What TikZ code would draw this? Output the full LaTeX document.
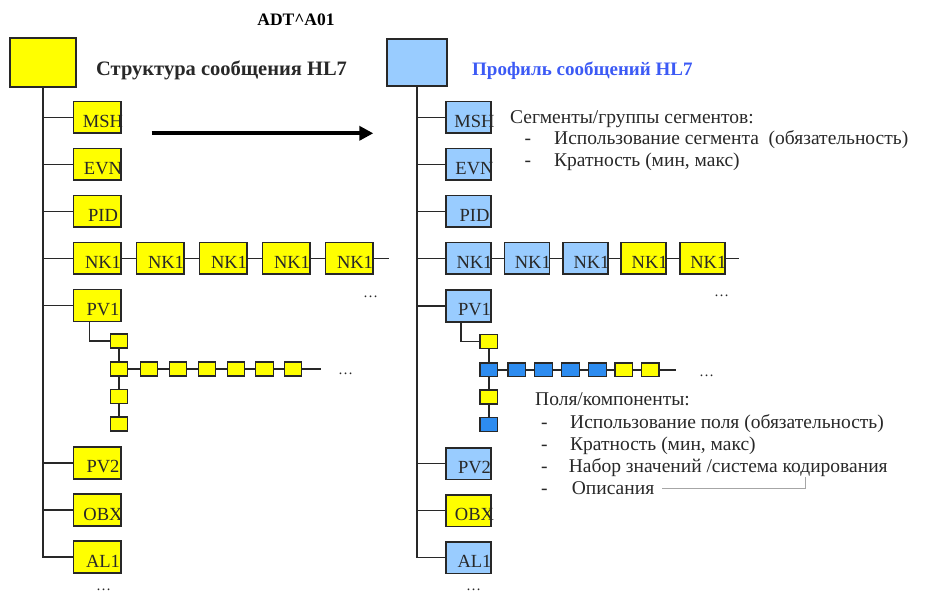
\documentclass[tikz,border=0pt]{standalone}
\usepackage{fontspec}
\setmainfont{Liberation Serif}
\usetikzlibrary{arrows.meta}

\definecolor{segyellow}{RGB}{255,255,0}
\definecolor{seglight}{RGB}{153,204,255}
\definecolor{flddark}{RGB}{45,140,240}
\definecolor{profblue}{RGB}{60,90,245}
\definecolor{ink}{RGB}{40,40,40}

% segment box with its label set a little right of and below the centre
\newcommand{\segnode}[6]{%
  \node[#1, fill=#5] (#2) at (#3,#4) {};
  \node[seglabel] (#2-t) at ([xshift=6pt,yshift=-4pt]#2.center) {#6};
}

\begin{document}
\begin{tikzpicture}[x=1pt,y=-1pt,
  wire/.style={draw=ink, line width=1.6pt},
  lseg/.style={draw=ink, line width=1.6pt, minimum width=47.4pt, minimum height=31.6pt, inner sep=0pt, outer sep=0pt},
  rseg/.style={draw=ink, line width=1.6pt, minimum width=45pt, minimum height=31.6pt, inner sep=0pt, outer sep=0pt},
  fld/.style={draw=ink, line width=1.3pt, minimum width=17.6pt, minimum height=13.8pt, inner sep=0pt, outer sep=0pt},
  seglabel/.style={font=\fontsize{18.5}{21}\selectfont, text=ink, inner sep=0pt},
  headline/.style={inner sep=0pt, anchor=base west},
  note/.style={font=\fontsize{19.5}{22}\selectfont, text=ink, inner sep=0pt, anchor=base west},
  dots/.style={font=\fontsize{15}{17}\selectfont, text=ink, inner sep=0pt},
  bracket/.style={draw=gray!70, line width=0.8pt}
]
\useasboundingbox (0,0) rectangle (943,596);

% ---------------- titles ----------------
\node[font=\fontsize{17.5}{20}\selectfont\bfseries, inner sep=0pt, anchor=base] (msgtype) at (296,26) {ADT\textasciicircum A01};
\node[headline, font=\fontsize{20.5}{23}\selectfont\bfseries, text=ink] (ltitle) at (96,76) {Структура сообщения HL7};
\node[headline, font=\fontsize{19}{22}\selectfont\bfseries, text=profblue] (rtitle) at (472,76) {Профиль сообщений HL7};

% ---------------- left tree: message structure ----------------
\node[draw=ink, line width=1.8pt, fill=segyellow, minimum width=66pt, minimum height=49pt, inner sep=0pt] (ltop) at (43,62.5) {};

\segnode{lseg}{lmsh}{97}{117.5}{segyellow}{MSH}
\segnode{lseg}{levn}{97}{164.5}{segyellow}{EVN}
\segnode{lseg}{lpid}{97}{211.5}{segyellow}{PID}
\segnode{lseg}{lnka}{97}{258.5}{segyellow}{NK1}
\segnode{lseg}{lnkb}{160}{258.5}{segyellow}{NK1}
\segnode{lseg}{lnkc}{223}{258.5}{segyellow}{NK1}
\segnode{lseg}{lnkd}{286}{258.5}{segyellow}{NK1}
\segnode{lseg}{lnke}{349}{258.5}{segyellow}{NK1}
\segnode{lseg}{lpva}{97}{305.5}{segyellow}{PV1}
\segnode{lseg}{lpvb}{97}{463}{segyellow}{PV2}
\segnode{lseg}{lobx}{97}{510}{segyellow}{OBX}
\segnode{lseg}{lal}{97}{557}{segyellow}{AL1}

\draw[wire] (ltop.south) |- (lal.west);
\foreach \n in {lmsh,levn,lpid,lnka,lpva,lpvb,lobx}
  \draw[wire] (\n.west) -- (\n.west -| ltop.south);

\coordinate (lnkend) at (389,258.5);
\draw[wire] (lnka.east) -- (lnkb.west) (lnkb.east) -- (lnkc.west)
            (lnkc.east) -- (lnkd.west) (lnkd.east) -- (lnke.west)
            (lnke.east) -- (lnkend);

% fields of PV1
\node[fld, fill=segyellow] (lfa) at (119,341) {};
\node[fld, fill=segyellow] (lfb) at (119,369) {};
\node[fld, fill=segyellow] (lfc) at (119,396.5) {};
\node[fld, fill=segyellow] (lfd) at (119,424) {};
\foreach \i/\x in {1/149,2/178,3/207,4/236,5/264.5,6/293}
  \node[fld, fill=segyellow] (lh\i) at (\x,369) {};
\coordinate (lhend) at (320.7,369);

\draw[wire] ([xshift=-7.7pt]lpva.south) |- (lfa.west);
\draw[wire] (lfa.south) -- (lfb.north) (lfb.south) -- (lfc.north) (lfc.south) -- (lfd.north);
\draw[wire] (lfb.east) -- (lh1.west) (lh1.east) -- (lh2.west) (lh2.east) -- (lh3.west)
            (lh3.east) -- (lh4.west) (lh4.east) -- (lh5.west) (lh5.east) -- (lh6.west)
            (lh6.east) -- (lhend);

\node[dots] (ldotsa) at (370.5,297) {\ldots};
\node[dots] (ldotsb) at (345.5,374) {\ldots};
\node[dots] (ldotsc) at (103.5,590) {\ldots};

% ---------------- arrow between the two trees ----------------
\coordinate (arrS) at (151.7,133.3);
\coordinate (arrE) at (373.3,133.3);
\draw[black, line width=3.6pt, -{Triangle[length=14pt,width=14pt]}] (arrS) -- (arrE);

% ---------------- right tree: message profile ----------------
\node[draw=ink, line width=1.8pt, fill=seglight, minimum width=59.4pt, minimum height=46.7pt, inner sep=0pt] (rtop) at (417,62.7) {};

\segnode{rseg}{rmsh}{468.5}{117.5}{seglight}{MSH}
\segnode{rseg}{revn}{468.5}{164.5}{seglight}{EVN}
\segnode{rseg}{rpid}{468.5}{211.5}{seglight}{PID}
\segnode{rseg}{rnka}{468.5}{258.5}{seglight}{NK1}
\segnode{rseg}{rnkb}{526.8}{258.5}{seglight}{NK1}
\segnode{rseg}{rnkc}{585.5}{258.5}{seglight}{NK1}
\segnode{rseg}{rnkd}{643.7}{258.5}{segyellow}{NK1}
\segnode{rseg}{rnke}{702.3}{258.5}{segyellow}{NK1}
\segnode{rseg}{rpva}{468.5}{306}{seglight}{PV1}
\segnode{rseg}{rpvb}{468.5}{463.5}{seglight}{PV2}
\segnode{rseg}{robx}{468.5}{510.5}{segyellow}{OBX}
\segnode{rseg}{ral}{468.5}{557.5}{seglight}{AL1}

\draw[wire] (rtop.south) |- (ral.west);
\foreach \n in {rmsh,revn,rpid,rnka,rpva,rpvb,robx}
  \draw[wire] (\n.west) -- (\n.west -| rtop.south);

\coordinate (rnkend) at (739.3,258.5);
\draw[wire] (rnka.east) -- (rnkb.west) (rnkb.east) -- (rnkc.west)
            (rnkc.east) -- (rnkd.west) (rnkd.east) -- (rnke.west)
            (rnke.east) -- (rnkend);

% fields of PV1 in the profile
\node[fld, fill=segyellow] (rfa) at (488.7,341.5) {};
\node[fld, fill=flddark]   (rfb) at (488.7,369.8) {};
\node[fld, fill=segyellow] (rfc) at (488.7,397) {};
\node[fld, fill=flddark]   (rfd) at (488.7,424.7) {};
\foreach \i/\x/\c in {1/516.7/flddark,2/543.5/flddark,3/570.4/flddark,4/597.4/flddark,5/623.8/segyellow,6/650.2/segyellow}
  \node[fld, fill=\c] (rh\i) at (\x,369.8) {};
\coordinate (rhend) at (676,369.8);

\draw[wire] ([xshift=-7.5pt]rpva.south) |- (rfa.west);
\draw[wire] (rfa.south) -- (rfb.north) (rfb.south) -- (rfc.north) (rfc.south) -- (rfd.north);
\draw[wire] (rfb.east) -- (rh1.west) (rh1.east) -- (rh2.west) (rh2.east) -- (rh3.west)
            (rh3.east) -- (rh4.west) (rh4.east) -- (rh5.west) (rh5.east) -- (rh6.west)
            (rh6.east) -- (rhend);

\node[dots] (rdotsa) at (721.5,296) {\ldots};
\node[dots] (rdotsb) at (706.5,376) {\ldots};
\node[dots] (rdotsc) at (473.5,590) {\ldots};

% ---------------- notes ----------------
\node[note] (segnote) at (510,123.3) {Сегменты/группы сегментов:};
\node[note] (segdasha) at (524.5,144.3) {-};
\node[note] (segusage) at (554,144.3) {Использование сегмента\ \ (обязательность)};
\node[note] (segdashb) at (524.5,166.7) {-};
\node[note] (segcard) at (554,166.7) {Кратность (мин, макс)};

\node[note] (fldnote) at (535,405) {Поля/компоненты:};
\node[note] (flddasha) at (541,428.3) {-};
\node[note] (fldusage) at (570,428.3) {Использование поля (обязательность)};
\node[note] (flddashb) at (541,450.5) {-};
\node[note] (fldcard) at (570,450.5) {Кратность (мин, макс)};
\node[note] (flddashc) at (541,472.3) {-};
\node[note] (fldvals) at (568.7,472.3) {Набор значений /система кодирования};
\node[note] (flddashd) at (541,494.3) {-};
\node[note] (flddesc) at (571.7,494.3) {Описания};

\coordinate (brTop) at (805.7,476.7);
\draw[bracket] ([xshift=8pt]flddesc.east) -| (brTop);

\end{tikzpicture}
\end{document}
